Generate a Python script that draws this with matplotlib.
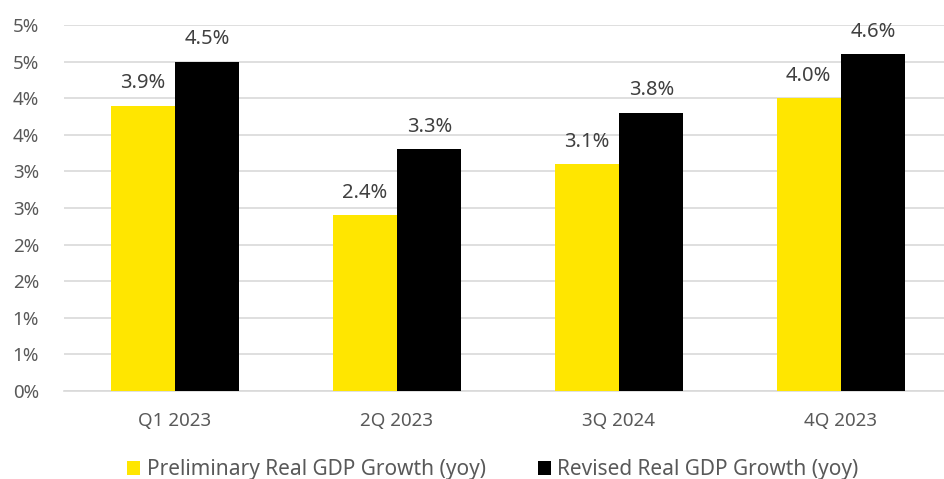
import math
import numpy as np
import matplotlib.pyplot as plt
from matplotlib.ticker import FuncFormatter, MultipleLocator

plt.rcParams['font.family'] = ['Noto Sans', 'DejaVu Sans']

quarters = ['Q1 2023', '2Q 2023', '3Q 2024', '4Q 2023']
preliminary = [3.9, 2.4, 3.1, 4.0]
revised = [4.5, 3.3, 3.8, 4.6]

yellow = '#FFE600'
grey_txt = '#595959'
grid_col = '#D9D9D9'

fig = plt.figure(figsize=(9.44, 4.79), dpi=100)
ax = fig.add_axes([64/944, (479-391)/479, (944-64)/944, (391-25)/479])

x = np.arange(len(quarters))
w = 0.29
b1 = ax.bar(x - w/2, preliminary, w, color=yellow, label='Preliminary Real GDP Growth (yoy)', zorder=3)
b2 = ax.bar(x + w/2, revised, w, color='black', label='Revised Real GDP Growth (yoy)', zorder=3)

for bars, vals in ((b1, preliminary), (b2, revised)):
    for r, v in zip(bars, vals):
        ax.text(r.get_x() + r.get_width()/2, v + 0.17, f'{v:.1f}%', ha='center', va='bottom',
                fontsize=14.5, color='#404040')

# percent labels rounded half-up, as spreadsheet formats do
ax.set_ylim(0, 5)
ax.set_xlim(-0.5, -0.5 + (944-64)/222)
ax.yaxis.set_major_locator(MultipleLocator(0.5))
ax.yaxis.set_major_formatter(FuncFormatter(lambda v, p: f'{math.floor(v + 0.5 + 1e-9):.0f}%'))
ax.set_xticks(x)
ax.set_xticklabels(quarters)
ax.tick_params(axis='both', length=0, labelsize=13.5, colors=grey_txt)
ax.tick_params(axis='y', pad=18)
ax.tick_params(axis='x', pad=15)
ax.grid(axis='y', color=grid_col, linewidth=1.2, zorder=0)
for s in ['top', 'right', 'left']:
    ax.spines[s].set_visible(False)
ax.spines['bottom'].set_color(grid_col)
ax.spines['bottom'].set_linewidth(1.2)

fig.legend(loc='lower center', bbox_to_anchor=(0.522, -0.042), ncol=2, frameon=False,
           fontsize=15, labelcolor=grey_txt, handlelength=0.65, handleheight=0.65,
           handletextpad=0.3, columnspacing=2.5)

fig.savefig('out.png', dpi=100)
